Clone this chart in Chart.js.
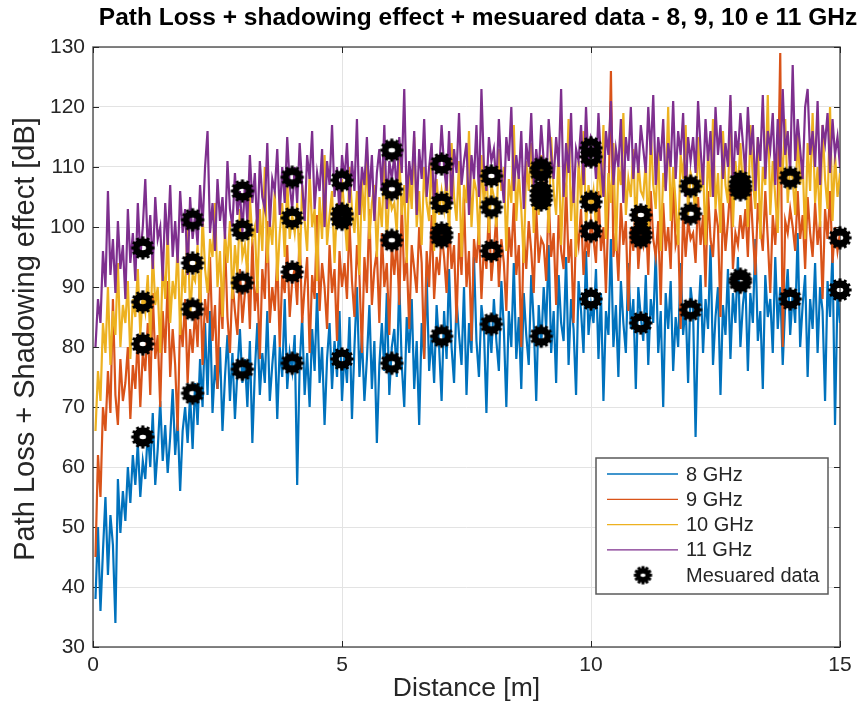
<!DOCTYPE html>
<html>
<head>
<meta charset="utf-8">
<script src="https://cdn.jsdelivr.net/npm/chart.js@4/dist/chart.umd.min.js"></script>
<style>
  html, body { margin: 0; padding: 0; background: #fff; }
  #wrap { width: 868px; height: 705px; }
</style>
</head>
<body>
<div id="wrap"><canvas id="chart" width="868" height="705"></canvas></div>
<script>
// sampling step of the simulated curves (m)
const step = 0.05;

// 8 GHz path loss + shadowing (dB), one row per metre
const loss8 = [
  38, 50, 36, 46, 55, 42, 52, 47, 34, 58, 49, 56, 51, 60, 54, 62, 57, 64, 55, 61,
  58, 66, 60, 69, 57, 63, 71, 61, 67, 59, 65, 73, 62, 68, 56, 66, 70, 64, 72, 63,
  74, 67, 78, 70, 84, 72, 86, 69, 77, 73, 80, 66, 75, 82, 71, 79, 68, 76, 83, 74,
  78, 70, 81, 64, 76, 84, 72, 79, 74, 86, 71, 77, 82, 68, 80, 75, 88, 73, 79, 76,
  82, 57, 77, 85, 72, 79, 70, 83, 76, 89, 74, 80, 67, 78, 84, 73, 81, 75, 86, 71,
  79, 74, 85, 68, 80, 90, 75, 82, 71, 78, 87, 73, 81, 64, 77, 84, 76, 89, 72, 80,
  83, 75, 91, 77, 70, 85, 79, 88, 73, 81, 67, 84, 78, 92, 76, 82, 74, 87, 80, 71,
  86, 78, 93, 80, 74, 88, 82, 77, 90, 72, 84, 79, 95, 81, 75, 87, 83, 69, 85, 79,
  88, 81, 76, 91, 83, 70, 86, 80, 94, 78, 85, 73, 89, 82, 77, 92, 84, 71, 87, 80,
  90, 83, 97, 79, 86, 74, 92, 84, 81, 95, 77, 88, 83, 72, 91, 86, 79, 96, 82, 87,
  84, 93, 78, 89, 71, 86, 82, 98, 80, 87, 75, 91, 84, 79, 94, 83, 88, 73, 90, 85,
  81, 92, 77, 88, 84, 96, 79, 86, 70, 89, 83, 91, 76, 85, 80, 94, 82, 87, 74, 90,
  86, 65, 84, 92, 79, 88, 83, 97, 77, 85, 90, 72, 87, 82, 93, 78, 89, 84, 95, 80,
  87, 91, 76, 89, 84, 98, 81, 86, 73, 92, 85, 88, 79, 95, 83, 90, 77, 87, 93, 82,
  89, 84, 99, 80, 87, 92, 75, 88, 83, 94, 79, 90, 86, 71, 91, 85, 96, 67, 89, 84
];

// 9 GHz
const loss9 = [
  45, 62, 55, 70, 66, 76, 69, 88, 72, 67, 78, 71, 74, 80, 68, 77, 73, 82, 70, 79,
  76, 84, 72, 89, 78, 82, 70, 86, 79, 91, 75, 83, 77, 66, 85, 80, 88, 74, 83, 79,
  86, 80, 92, 77, 88, 84, 95, 81, 87, 73, 90, 83, 98, 85, 79, 91, 86, 82, 93, 84,
  89, 94, 83, 98, 86, 91, 78, 93, 88, 101, 84, 90, 86, 95, 80, 92, 89, 97, 85, 91,
  93, 87, 99, 84, 90, 95, 79, 92, 88, 102, 86, 94, 90, 83, 97, 89, 93, 81, 96, 90,
  94, 88, 101, 91, 85, 97, 92, 79, 95, 89, 103, 87, 93, 96, 84, 99, 90, 94, 82, 97,
  92, 98, 87, 104, 91, 95, 83, 97, 93, 89, 100, 94, 78, 96, 90, 102, 88, 95, 92, 99,
  95, 89, 101, 93, 97, 84, 99, 92, 105, 90, 96, 81, 98, 94, 100, 88, 97, 93, 103, 91,
  96, 102, 90, 98, 94, 86, 100, 95, 104, 92, 97, 80, 99, 93, 101, 96, 89, 103, 94, 98,
  97, 91, 105, 95, 99, 87, 102, 96, 93, 107, 94, 98, 84, 100, 97, 103, 92, 99, 95, 101,
  98, 94, 106, 96, 100, 89, 103, 126, 95, 99, 91, 104, 97, 101, 86, 100, 96, 105, 93, 99,
  97, 102, 92, 106, 98, 95, 101, 87, 104, 96, 100, 93, 108, 97, 99, 83, 103, 95, 101, 98,
  99, 94, 105, 97, 102, 90, 106, 98, 95, 103, 100, 85, 104, 96, 101, 107, 93, 99, 97, 102,
  98, 103, 95, 107, 99, 92, 104, 100, 96, 106, 98, 89, 102, 97, 105, 129, 80, 101, 99, 103,
  100, 96, 106, 98, 102, 93, 105, 99, 95, 104, 97, 101, 88, 103, 98, 106, 94, 100, 96, 99
];

// 10 GHz
const loss10 = [
  66, 76, 71, 84, 79, 90, 77, 86, 82, 94, 80, 87, 84, 91, 78, 88, 85, 93, 82, 89,
  86, 92, 81, 96, 87, 90, 79, 94, 88, 100, 84, 91, 88, 97, 82, 93, 89, 101, 85, 92,
  91, 97, 86, 102, 93, 89, 98, 95, 104, 90, 96, 85, 99, 94, 101, 88, 97, 92, 103, 95,
  97, 92, 105, 98, 100, 89, 103, 96, 110, 94, 101, 97, 106, 91, 99, 104, 95, 108, 98, 102,
  99, 104, 93, 107, 101, 96, 109, 100, 103, 91, 105, 98, 112, 97, 102, 106, 94, 104, 100, 108,
  102, 96, 110, 103, 99, 106, 92, 108, 101, 113, 98, 104, 107, 95, 105, 100, 111, 97, 106, 103,
  104, 99, 112, 102, 107, 94, 109, 103, 115, 100, 106, 97, 110, 104, 101, 113, 96, 108, 102, 106,
  103, 109, 98, 114, 105, 101, 111, 95, 107, 104, 116, 100, 108, 106, 97, 112, 103, 110, 99, 107,
  105, 100, 113, 106, 110, 96, 108, 104, 117, 101, 109, 103, 94, 111, 106, 114, 99, 107, 102, 112,
  104, 110, 99, 115, 106, 102, 113, 97, 108, 105, 118, 101, 109, 95, 111, 104, 116, 100, 107, 103,
  106, 100, 112, 105, 117, 98, 109, 104, 114, 96, 110, 107, 119, 102, 108, 105, 113, 99, 111, 106,
  105, 111, 98, 116, 107, 103, 114, 96, 109, 106, 120, 101, 110, 104, 97, 112, 108, 117, 102, 109,
  107, 101, 115, 106, 110, 97, 113, 105, 118, 103, 109, 99, 116, 107, 104, 121, 100, 111, 106, 114,
  106, 112, 100, 117, 108, 103, 115, 98, 110, 107, 122, 102, 111, 105, 99, 113, 109, 118, 104, 110,
  108, 102, 116, 107, 111, 98, 114, 106, 119, 104, 110, 100, 117, 108, 103, 120, 101, 112, 105, 109
];

// 11 GHz
const loss11 = [
  80, 88, 84, 96, 90, 106, 92, 98, 89, 101, 93, 97, 88, 103, 94, 99, 91, 104, 95, 100,
  108, 96, 102, 93, 105, 98, 100, 91, 104, 97, 107, 95, 101, 94, 106, 99, 103, 92, 105, 98,
  102, 97, 107, 100, 110, 116, 99, 104, 96, 108, 101, 105, 98, 111, 103, 100, 109, 102, 106, 99,
  107, 101, 112, 104, 109, 99, 111, 105, 103, 114, 100, 108, 106, 113, 102, 110, 104, 115, 107, 103,
  110, 104, 114, 107, 101, 112, 108, 116, 103, 109, 106, 113, 100, 111, 107, 117, 105, 110, 102, 112,
  108, 114, 104, 111, 106, 118, 102, 110, 107, 115, 105, 112, 101, 109, 113, 106, 117, 103, 111, 108,
  112, 106, 115, 109, 123, 104, 111, 107, 116, 102, 113, 108, 118, 105, 110, 114, 103, 112, 109, 117,
  110, 106, 116, 104, 113, 109, 119, 107, 111, 114, 102, 112, 108, 117, 105, 123, 110, 106, 115, 111,
  113, 107, 118, 109, 104, 115, 111, 120, 106, 112, 108, 116, 103, 114, 110, 119, 107, 113, 109, 117,
  111, 106, 118, 112, 108, 115, 110, 123, 105, 114, 109, 119, 104, 113, 111, 117, 107, 120, 110, 115,
  114, 108, 119, 111, 105, 116, 112, 121, 107, 113, 110, 118, 104, 115, 111, 120, 108, 114, 109, 117,
  113, 109, 120, 112, 122, 107, 115, 111, 118, 106, 114, 110, 121, 108, 116, 112, 119, 105, 115, 111,
  115, 109, 121, 113, 107, 118, 111, 116, 105, 120, 112, 117, 108, 114, 110, 122, 106, 116, 112, 119,
  114, 109, 120, 112, 117, 106, 115, 111, 122, 108, 116, 113, 119, 107, 118, 110, 123, 112, 116, 109,
  127, 111, 118, 113, 108, 120, 123, 112, 116, 110, 121, 107, 117, 114, 119, 109, 118, 112, 115, 110
];

// measured points
const measDist = [1, 1, 1, 1, 2, 2, 2, 2, 3, 3, 3, 3, 4, 4, 4, 4, 5, 5, 5, 5, 6, 6, 6, 6,
  7, 7, 7, 7, 7, 8, 8, 8, 8, 9, 9, 9, 9, 9, 9, 10, 10, 10, 10, 10, 11, 11, 11, 11,
  12, 12, 12, 13, 13, 13, 13, 13, 14, 14, 15, 15];
const measLoss = [96.5, 87.5, 80.5, 65, 101.2, 94, 86.3, 72.3, 106, 99.5, 90.7, 76.3,
  108.3, 101.5, 92.5, 77.3, 107.8, 102.2, 101.3, 78, 112.8, 106.3, 97.8, 77.3,
  110.5, 104, 99, 98.3, 81.8, 108.5, 103.3, 96, 83.8,
  109.8, 109.2, 106, 105.2, 104.5, 81.8, 113.2, 111.7, 104.2, 99.3, 88,
  102, 99, 98.3, 84, 106.8, 102.2, 86.2, 107.5, 106.8, 106.2, 91.3, 90.8,
  108.2, 88, 98.2, 89.5];

const seriesNames = ['8 GHz', '9 GHz', '10 GHz', '11 GHz'];
const seriesColors = ['#0072BD', '#D95319', '#EDB120', '#7E2F8E'];
const titleText = 'Path Loss + shadowing effect + mesuared data - 8, 9, 10 e 11 GHz';

// gear-like marker (MATLAB hexagram drawn with a thick edge)
function makeGear(r) {
  const size = Math.ceil(r * 2 + 6);
  const c = document.createElement('canvas');
  c.width = size; c.height = size;
  const g = c.getContext('2d');
  g.translate(size / 2, size / 2);
  g.fillStyle = '#000';
  g.beginPath();
  g.arc(0, 0, r - 1.2, 0, Math.PI * 2);
  g.fill();
  for (let i = 0; i < 12; i++) {
    g.save();
    g.rotate(i * Math.PI / 6);
    g.fillRect(-1.5, -r - 0.6, 3, 3);
    g.restore();
  }
  g.globalCompositeOperation = 'destination-out';
  g.beginPath();
  g.ellipse(0, 0, r * 0.3, r * 0.2, 0, 0, Math.PI * 2);
  g.fill();
  return c;
}
const gear = makeGear(11);
const gearSmall = makeGear(8.5);

const toPoints = arr => arr.map((v, i) => ({ x: +((i + 1) * step).toFixed(2), y: v }));

const lossSeries = [loss8, loss9, loss10, loss11];
const datasets = lossSeries.map((arr, k) => ({
  label: seriesNames[k],
  data: toPoints(arr),
  borderColor: seriesColors[k],
  backgroundColor: seriesColors[k],
  borderWidth: 2.2,
  pointRadius: 0,
  tension: 0,
  order: 4 - k
}));
datasets.push({
  label: 'Mesuared data',
  type: 'scatter',
  data: measDist.map((d, i) => ({ x: d, y: measLoss[i] })),
  pointStyle: gear,
  showLine: false,
  clip: false,
  order: 0
});

const txt = '#262626';
const fam = '"Liberation Sans", Arial, sans-serif';

const matlabAxes = {
  id: 'matlabAxes',
  beforeDatasetsDraw(chart) {
    const { ctx, chartArea: a, scales } = chart;
    ctx.save();
    ctx.strokeStyle = '#5a5a5a';
    ctx.lineWidth = 1.5;
    ctx.strokeRect(a.left, a.top, a.right - a.left, a.bottom - a.top);
    ctx.lineWidth = 1;
    ctx.strokeStyle = txt;
    scales.y.ticks.forEach(t => {
      const y = Math.round(scales.y.getPixelForValue(t.value)) + 0.5;
      ctx.beginPath();
      ctx.moveTo(a.left, y); ctx.lineTo(a.left + 6, y);
      ctx.moveTo(a.right, y); ctx.lineTo(a.right - 6, y);
      ctx.stroke();
    });
    scales.x.ticks.forEach(t => {
      const x = Math.round(scales.x.getPixelForValue(t.value)) + 0.5;
      ctx.beginPath();
      ctx.moveTo(x, a.bottom); ctx.lineTo(x, a.bottom - 6);
      ctx.moveTo(x, a.top); ctx.lineTo(x, a.top + 6);
      ctx.stroke();
    });
    ctx.restore();
  },
  afterDraw(chart) {
    const { ctx } = chart;
    ctx.save();
    // title
    ctx.fillStyle = '#000';
    ctx.font = 'bold 24.5px ' + fam;
    ctx.textAlign = 'center';
    ctx.textBaseline = 'middle';
    ctx.fillText(titleText, 478, 18);

    // legend box
    const bx = 596, by = 458, bw = 232, bh = 136;
    ctx.fillStyle = '#fff';
    ctx.fillRect(bx, by, bw, bh);
    ctx.strokeStyle = '#5a5a5a';
    ctx.lineWidth = 1.5;
    ctx.strokeRect(bx, by, bw, bh);
    ctx.font = '20px ' + fam;
    ctx.textAlign = 'left';
    chart.data.datasets.forEach((ds, i) => {
      const y = by + 16 + i * 25.3;
      if (ds.pointStyle === gear) {
        ctx.drawImage(gearSmall, 643 - gearSmall.width / 2, y - gearSmall.height / 2);
      } else {
        ctx.strokeStyle = ds.borderColor;
        ctx.lineWidth = 1.3;
        ctx.beginPath();
        ctx.moveTo(607, y); ctx.lineTo(678, y);
        ctx.stroke();
      }
      ctx.fillStyle = txt;
      ctx.fillText(ds.label, 686, y + 1);
    });
    ctx.restore();
  }
};

new Chart(document.getElementById('chart'), {
  type: 'line',
  data: { datasets },
  options: {
    responsive: false,
    animation: false,
    layout: { padding: { left: 0, right: 28, top: 47, bottom: 0 } },
    plugins: {
      legend: { display: false },
      title: { display: false },
      tooltip: { enabled: false }
    },
    scales: {
      x: {
        type: 'linear',
        min: 0, max: 15,
        ticks: { stepSize: 5, padding: 6, color: txt, font: { family: fam, size: 21 } },
        grid: { color: '#e3e3e3', drawTicks: false },
        border: { display: false },
        title: { display: true, text: 'Distance [m]', color: txt, padding: { top: 0, bottom: 0 },
          font: { family: fam, size: 26.5 } },
        afterFit: s => { s.height = 58; }
      },
      y: {
        min: 30, max: 130,
        ticks: { stepSize: 10, padding: 8, color: txt, font: { family: fam, size: 21 } },
        grid: { color: '#e3e3e3', drawTicks: false },
        border: { display: false },
        title: { display: true, text: '  Path Loss + Shadowing effect [dB]', color: txt, padding: { top: 9, bottom: 0 },
          font: { family: fam, size: 29 } },
        afterFit: s => { s.width = 93; }
      }
    }
  },
  plugins: [matlabAxes]
});
</script>
</body>
</html>
